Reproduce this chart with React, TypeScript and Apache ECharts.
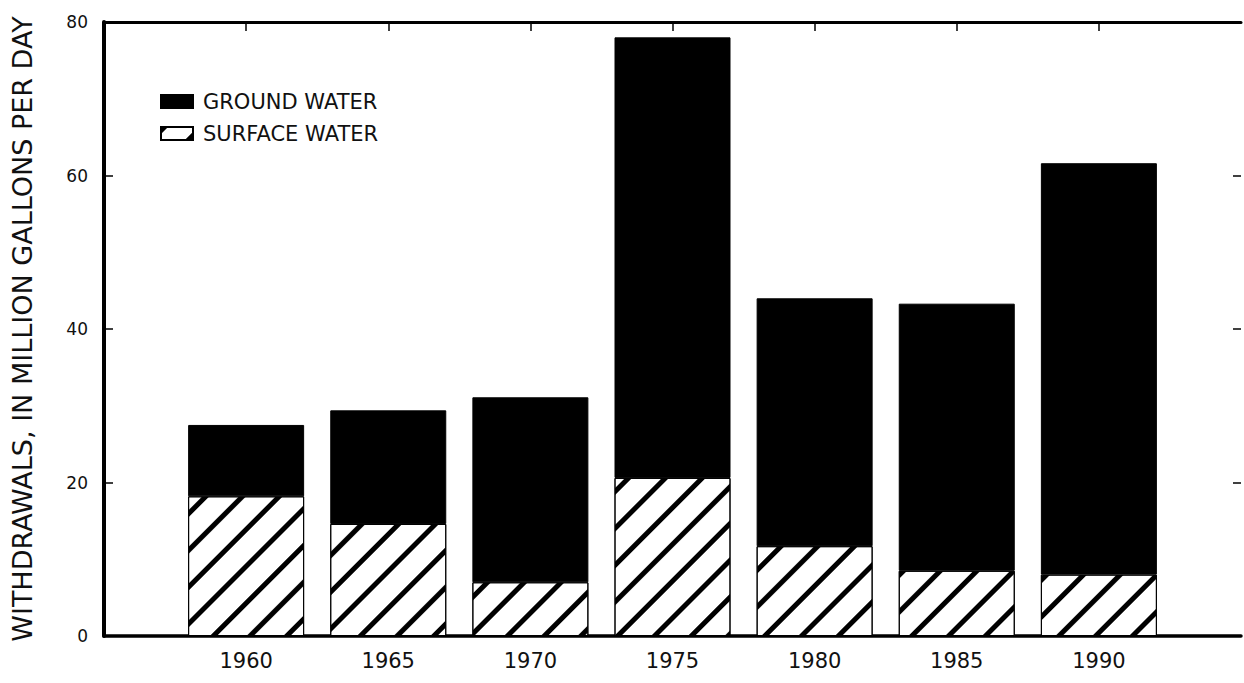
import React, { useEffect, useRef } from "react";
import * as echarts from "echarts";

const years = ["1960", "1965", "1970", "1975", "1980", "1985", "1990"];
const axisEnds = ["1955", "1995"];
const surfaceWater = [18.2, 14.6, 7.0, 20.6, 11.7, 8.5, 8.0];
const groundWater = [9.3, 14.8, 24.1, 57.4, 32.3, 34.8, 53.6];
const yTicks = [0, 20, 40, 60, 80];
const yTitle = "WITHDRAWALS, IN MILLION GALLONS PER DAY";
const seriesNames = ["GROUND WATER", "SURFACE WATER"];

const FONT = "'DejaVu Sans', sans-serif";
const INK = "#111";

export default function App() {
  const ref = useRef<HTMLDivElement>(null);
  useEffect(() => {
    if (!ref.current) return;
    const chart = echarts.init(ref.current, null, { renderer: "svg" });
    const categories = [axisEnds[0], ...years, axisEnds[1]];
    const pad = (arr: number[]) => ["-", ...arr, "-"];
    const hatch = {
      symbol: "rect",
      symbolSize: 1,
      dashArrayX: [1, 0],
      dashArrayY: [4.5, 21],
      rotation: -Math.PI / 4,
      color: "#000",
      backgroundColor: "#fff",
    };
    chart.setOption({
      animation: false,
      backgroundColor: "#fff",
      grid: { left: 104, right: -2, top: 22, bottom: 47, containLabel: false },
      legend: {
        orient: "vertical",
        left: 155,
        top: 86,
        itemWidth: 32,
        itemHeight: 13,
        itemGap: 11,
        data: [
          { name: seriesNames[0], icon: "rect" },
          { name: seriesNames[1], icon: "rect" },
        ],
        textStyle: { fontFamily: FONT, fontSize: 21, color: INK, padding: [0, 0, 0, 5] },
      },
      xAxis: [
        {
          type: "category",
          position: "bottom",
          data: categories,
          boundaryGap: false,
          splitLine: { show: false },
          axisLine: { show: true, onZero: false, lineStyle: { color: "#000", width: 3.5 } },
          axisTick: { show: false },
          axisLabel: {
            fontFamily: FONT,
            fontSize: 21,
            color: INK,
            margin: 14,
            interval: 0,
            formatter: (v: string) => (years.includes(v) ? v : ""),
          },
        },
        {
          type: "category",
          position: "top",
          data: categories,
          boundaryGap: false,
          splitLine: { show: false },
          axisLine: { show: true, onZero: false, lineStyle: { color: "#000", width: 3 } },
          axisTick: {
            show: true,
            inside: true,
            length: 9,
            interval: (i: number) => i > 0 && i < categories.length - 1,
            lineStyle: { color: "#000", width: 1.5 },
          },
          axisLabel: { show: false },
        },
      ],
      yAxis: [
        {
          type: "value",
          position: "left",
          min: yTicks[0],
          max: yTicks[yTicks.length - 1],
          interval: 20,
          splitLine: { show: false },
          axisLine: { show: true, onZero: false, lineStyle: { color: "#000", width: 4 } },
          axisTick: { show: true, inside: true, length: 9, lineStyle: { color: "#000", width: 1.5 } },
          axisLabel: { fontFamily: FONT, fontSize: 17, color: INK, margin: 16 },
          name: yTitle,
          nameLocation: "middle",
          nameRotate: 90,
          nameGap: 68,
          nameTextStyle: { fontFamily: FONT, fontSize: 27, color: INK },
        },
        {
          type: "value",
          position: "right",
          min: yTicks[0],
          max: yTicks[yTicks.length - 1],
          interval: 20,
          splitLine: { show: false },
          axisLine: { show: false, onZero: false },
          axisTick: { show: true, inside: true, length: 8, lineStyle: { color: "#000", width: 1.5 } },
          axisLabel: { show: false },
        },
      ],
      series: [
        {
          name: seriesNames[1],
          type: "bar",
          stack: "total",
          xAxisIndex: 0,
          yAxisIndex: 0,
          barWidth: 116,
          data: pad(surfaceWater),
          itemStyle: { color: "#fff", borderColor: "#000", borderWidth: 1, decal: hatch },
        },
        {
          name: seriesNames[0],
          type: "bar",
          stack: "total",
          xAxisIndex: 0,
          yAxisIndex: 0,
          barWidth: 116,
          data: pad(groundWater),
          itemStyle: { color: "#000", borderColor: "#000", borderWidth: 1 },
        },
      ],
    });
    return () => chart.dispose();
  }, []);
  return (
    <div
      ref={ref}
      style={{ position: "absolute", left: 0, top: 0, width: 1244, height: 683, background: "#fff" }}
    />
  );
}
